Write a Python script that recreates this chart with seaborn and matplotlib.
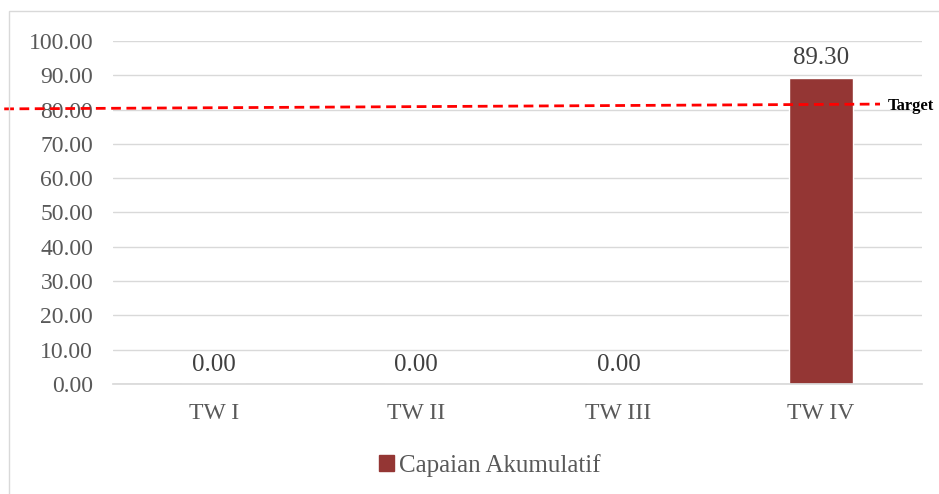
import matplotlib
matplotlib.use("Agg")
import matplotlib.pyplot as plt
import matplotlib.transforms as mtransforms
from matplotlib.patches import Rectangle
import seaborn as sns
import pandas as pd

categories = ["TW I", "TW II", "TW III", "TW IV"]
values = [0.00, 0.00, 0.00, 89.30]
series_name = "Capaian Akumulatif"
target_left = 80.2
target_right = 81.6
target_label = "Target"
yticks = [0, 10, 20, 30, 40, 50, 60, 70, 80, 90, 100]

sns.set_theme(style="white")
plt.rcParams['font.family'] = ['Liberation Serif', 'DejaVu Serif']

bar_color = "#943634"
text_color = "#595959"
grid_color = "#d9d9d9"

df = pd.DataFrame({"cat": categories, "val": values, "series": series_name})

fig = plt.figure(figsize=(9.39, 4.94), dpi=100)
ax = fig.add_axes([0.120, 0.223, 0.862, 0.694])

sns.barplot(data=df, x="cat", y="val", hue="series", palette=[bar_color],
            width=0.32, ax=ax, legend=False, saturation=1)

ax.set_ylim(0, 100)
ax.set_yticks(yticks)
ax.set_yticklabels([f"{v:.2f}" for v in yticks], fontsize=17, color=text_color)
ax.tick_params(axis='x', labelsize=17, labelcolor=text_color, length=0, pad=14)
ax.tick_params(axis='y', length=0, pad=14)
ax.set_xlabel("")
ax.set_ylabel("")
ax.yaxis.grid(True, color=grid_color, linewidth=1)
ax.set_axisbelow(True)
for s in ["top", "right", "left"]:
    ax.spines[s].set_visible(False)
ax.spines["bottom"].set_color(grid_color)

for i, v in enumerate(values):
    ax.annotate(f"{v:.2f}", (i, v), xytext=(0, 6), textcoords="offset points",
                ha="center", va="bottom", fontsize=18, color="#404040")

# Target line
trans = mtransforms.blended_transform_factory(ax.transAxes, ax.transData)
ax.plot([-0.134, 0.948], [target_left, target_right], transform=trans,
        color="red", linestyle=(0, (3.5, 2)), linewidth=2.0, clip_on=False, zorder=5)
ax.text(0.957, target_right - 0.5, target_label, transform=trans, fontsize=12,
        fontweight="bold", color="black", va="center", ha="left", clip_on=False)

ax.set_xlim(-0.5, 3.5)

# Legend
handle = Rectangle((0, 0), 1, 1, color=bar_color)
fig.legend([handle], [series_name], loc="center", bbox_to_anchor=(0.522, 0.058),
           frameon=False, fontsize=18, handlelength=0.6, handleheight=0.6,
           handletextpad=0.2, labelcolor=text_color)

# Outer chart frame
fig.patches.append(Rectangle((9 / 939, -0.1), 1.1, 1 - 11 / 494 + 0.1,
                             transform=fig.transFigure, fill=False,
                             edgecolor=grid_color, linewidth=1))

fig.savefig("out.png", dpi=100)
